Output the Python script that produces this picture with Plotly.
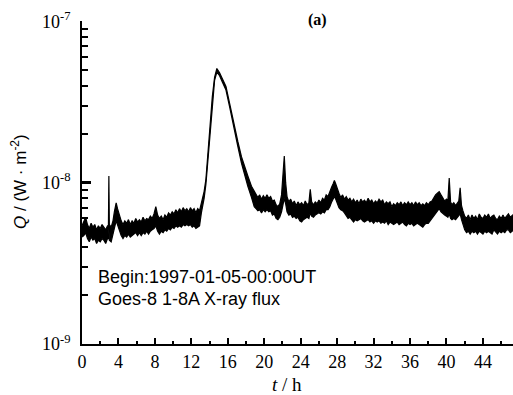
import plotly.graph_objects as go

# time in hours since 1997-01-05 00:00 UT (rows grouped the same way in all three lists)
t_hours = [
    0.0, 0.2, 0.4, 0.6, 0.8, 1.0, 1.2, 1.4, 1.6, 1.8, 2.0, 2.2, 2.4, 2.6, 2.8,
    2.9, 2.95, 3.0, 3.2, 3.4, 3.55, 3.75, 3.9, 4.1, 4.3,
    4.5, 4.7, 4.9, 5.1, 5.3, 5.5, 5.7, 5.9, 6.1, 6.3, 6.5, 6.7, 6.9, 7.1, 7.3, 7.5, 7.7, 7.9,
    8.1, 8.3, 8.5, 8.7, 8.9, 9.1, 9.3, 9.5, 9.7, 9.9, 10.1, 10.3, 10.5, 10.7, 10.9,
    11.1, 11.3, 11.5, 11.7, 11.9, 12.1, 12.3, 12.5, 12.7, 12.9,
    13.1, 13.4, 13.6, 13.8, 14.0, 14.3, 14.55, 14.8, 15.1, 15.4, 15.8, 16.2, 16.7, 17.1,
    17.5, 17.9, 18.2, 18.6, 18.9,
    19.1, 19.3, 19.5, 19.7, 19.9, 20.1, 20.3, 20.5, 20.7, 20.9, 21.1, 21.3, 21.5, 21.7, 21.9,
    22.05, 22.2, 22.35, 22.5, 22.7, 22.9, 23.1, 23.3, 23.5, 23.7, 23.9, 24.1, 24.3, 24.5, 24.7, 24.9,
    25.05, 25.2, 25.4, 25.6, 25.8, 26.0, 26.2, 26.4, 26.6, 26.8, 27.0, 27.2, 27.4, 27.55, 27.7,
    27.85, 28.0, 28.2, 28.4, 28.6, 28.8, 29.0, 29.2, 29.4, 29.6, 29.8,
    30.0, 30.2, 30.4, 30.6, 30.8, 31.0, 31.2, 31.4, 31.6, 31.8,
    32.0, 32.2, 32.4, 32.6, 32.8, 33.0, 33.2, 33.4, 33.6, 33.8,
    34.0, 34.2, 34.4, 34.6, 34.8, 35.0, 35.2, 35.4, 35.6, 35.8,
    36.0, 36.2, 36.4, 36.6, 36.8, 37.0, 37.2, 37.4, 37.6, 37.8,
    38.0, 38.2, 38.4, 38.6, 38.8, 39.0, 39.2, 39.4, 39.6, 39.8,
    40.0, 40.15, 40.3, 40.45, 40.6, 40.8, 41.0, 41.2, 41.35, 41.5, 41.65, 41.8,
    42.0, 42.2, 42.4, 42.6, 42.8, 43.0, 43.2, 43.4, 43.6, 43.8,
    44.0, 44.2, 44.4, 44.6, 44.8, 45.0, 45.2, 45.4, 45.6, 45.8,
    46.0, 46.2, 46.4, 46.6, 46.8, 47.0, 47.2, 47.4,
]

# upper edge of the noisy flux band, in units of 1e-9 W/m^2
flux_upper = [
    5.4, 5.7, 6.1, 5.5, 5.2, 5.6, 5.3, 5.5, 5.1, 5.4, 5.2, 5.5, 5.3, 5.1, 5.4,
    5.4, 11.0, 5.5, 5.3, 5.8, 6.6, 7.5, 6.9, 6.3, 5.8,
    5.5, 5.8, 5.6, 5.9, 5.5, 5.8, 5.6, 6.0, 5.7, 5.9, 5.7, 6.1, 5.8, 6.0, 5.9, 6.2, 6.0, 6.4,
    7.1, 6.3, 6.0, 6.2, 5.9, 6.3, 6.1, 6.5, 6.3, 6.6, 6.4, 6.8, 6.5, 6.9, 6.6,
    7.0, 6.7, 6.9, 6.6, 7.0, 6.7, 6.9, 6.5, 6.9, 6.7,
    7.5, 8.8, 10.5, 14.5, 21.5, 34.0, 45.0, 51.0, 48.0, 44.0, 39.5, 31.0, 22.5, 18.0,
    14.5, 12.2, 11.0, 9.5, 8.9,
    8.4, 8.1, 8.4, 7.9, 8.3, 8.0, 8.4, 8.0, 8.2, 7.7, 7.8, 7.3, 7.1, 7.4, 8.4,
    10.5, 14.6, 10.0, 8.2, 7.6, 7.9, 7.4, 7.7, 7.2, 7.6, 7.3, 7.5, 7.2, 7.7, 7.3, 7.5,
    9.1, 7.6, 7.3, 7.6, 7.4, 7.8, 7.5, 8.0, 7.8, 8.4, 8.2, 8.9, 9.4, 9.8, 10.3,
    9.8, 9.2, 8.6, 8.1, 8.4, 7.9, 8.2, 7.8, 8.0, 7.6, 7.9,
    7.5, 7.8, 7.4, 7.9, 7.6, 7.8, 7.5, 8.0, 7.6, 7.8,
    7.4, 7.7, 7.5, 7.9, 7.6, 7.8, 7.3, 7.6, 7.4, 7.6,
    7.1, 7.4, 7.2, 7.5, 7.3, 7.6, 7.2, 7.5, 7.3, 7.6,
    7.3, 7.5, 7.2, 7.6, 7.3, 7.5, 7.2, 7.4, 7.2, 7.5,
    7.3, 7.6, 7.7, 8.1, 8.4, 8.6, 8.8, 8.4, 8.0, 7.7,
    7.9, 7.7, 10.7, 7.6, 7.3, 7.5, 7.2, 7.5, 7.7, 9.3, 7.2, 6.7,
    6.2, 6.0, 6.3, 5.9, 6.3, 6.0, 6.2, 5.9, 6.4, 6.1,
    6.0, 6.3, 6.1, 6.4, 6.0, 6.2, 6.3, 6.0, 5.9, 6.2,
    6.0, 6.3, 6.0, 6.2, 6.4, 6.1, 6.3, 6.4,
]

# lower edge of the noisy flux band, in units of 1e-9 W/m^2
flux_lower = [
    4.6, 4.7, 4.9, 4.5, 4.3, 4.6, 4.4, 4.5, 4.2, 4.4, 4.3, 4.5, 4.4, 4.2, 4.5,
    4.5, 5.2, 4.4, 4.3, 4.7, 5.2, 5.8, 5.5, 5.0, 4.7,
    4.5, 4.7, 4.6, 4.8, 4.6, 4.7, 4.8, 4.9, 4.7, 4.9, 4.7, 4.9, 4.8, 5.0, 4.8, 5.0, 5.1, 5.2,
    5.4, 5.0, 4.8, 5.0, 4.9, 5.1, 5.0, 5.2, 5.1, 5.3, 5.2, 5.4, 5.3, 5.4, 5.3,
    5.5, 5.4, 5.5, 5.4, 5.5, 5.3, 5.4, 5.2, 5.3, 5.4,
    6.5, 8.0, 9.8, 13.5, 20.0, 32.0, 43.0, 48.5, 46.0, 42.0, 37.5, 29.5, 21.0, 16.8,
    13.2, 10.8, 9.5, 8.1, 7.1,
    6.9, 6.7, 6.8, 6.5, 6.8, 6.6, 6.8, 6.6, 6.7, 6.3, 6.4, 6.0, 5.9, 6.1, 6.6,
    7.4, 8.0, 7.4, 6.6, 6.3, 6.4, 6.1, 6.2, 6.0, 6.1, 5.8, 5.7, 5.9, 6.0, 6.1, 6.0,
    6.5, 6.2, 6.1, 6.3, 6.4, 6.5, 6.4, 6.6, 6.5, 6.8, 6.8, 7.1, 7.6, 7.9, 8.2,
    7.9, 7.4, 7.0, 6.8, 6.7, 6.5, 6.2, 6.0, 6.1, 5.9, 5.7,
    5.9, 5.8, 5.9, 6.0, 5.8, 5.7, 5.8, 5.9, 5.7, 5.8,
    5.6, 5.8, 5.7, 5.8, 5.6, 5.7, 5.6, 5.8, 5.5, 5.7,
    5.6, 5.5, 5.6, 5.7, 5.5, 5.6, 5.7, 5.5, 5.4, 5.6,
    5.5, 5.6, 5.4, 5.5, 5.6, 5.5, 5.4, 5.3, 5.5, 5.6,
    5.6, 5.8, 6.0, 6.3, 6.5, 6.7, 6.9, 6.6, 6.4, 6.3,
    6.2, 6.1, 6.4, 6.0, 5.9, 6.0, 5.9, 6.1, 6.2, 6.4, 5.9, 5.5,
    5.1, 4.9, 5.0, 4.8, 5.0, 4.9, 5.0, 4.8, 5.0, 4.9,
    4.8, 5.0, 4.9, 5.0, 4.9, 4.8, 5.1, 4.9, 4.8, 5.0,
    4.9, 5.0, 4.9, 5.1, 5.1, 4.9, 5.0, 5.2,
]

assert len(t_hours) == len(flux_upper) == len(flux_lower)

x_tickvals = list(range(0, 48, 4))
x_ticktext = [str(v) for v in x_tickvals]
y_major_vals = [1e-9, 1e-8, 1e-7]
y_major_text = ["10<sup>-9</sup>", "10<sup>-8</sup>", "10<sup>-7</sup>"]
y_minor_vals = [m * 10.0 ** e for e in (-9, -8) for m in range(2, 10)]

W, H = 513, 395
L, R, T, B = 82, 0, 21, 51


def px_x(p):
    return (p - L) / (W - L - R)


def px_y(p):
    return 1 - (p - T) / (H - T - B)


up = [v * 1e-9 for v in flux_upper]
lo = [v * 1e-9 for v in flux_lower]

fig = go.Figure()
fig.add_trace(go.Scatter(x=t_hours, y=lo, mode="lines",
                         line=dict(color="black", width=1.2), showlegend=False, hoverinfo="skip"))
fig.add_trace(go.Scatter(x=t_hours, y=up, mode="lines", fill="tonexty", fillcolor="black",
                         line=dict(color="black", width=1.2), showlegend=False))

serif = "Liberation Serif, Times New Roman, serif"
sans = "Liberation Sans, Arial, sans-serif"

fig.update_layout(
    width=W, height=H,
    margin=dict(l=L, r=R, t=T, b=B),
    paper_bgcolor="white", plot_bgcolor="white",
    font=dict(family=serif, size=18, color="black"),
    xaxis=dict(range=[0, 47.3], tickmode="array", tickvals=x_tickvals, ticktext=x_ticktext,
               ticks="inside", ticklen=6, tickwidth=1.8, tickcolor="black",
               minor=dict(ticks="inside", ticklen=3, tickwidth=1.6, dtick=2, tick0=0, tickcolor="black"),
               showline=True, linecolor="black", linewidth=1.8, showgrid=False, zeroline=False,
               tickfont=dict(family=serif, size=18)),
    yaxis=dict(type="log", range=[-9, -6.998], tickmode="array", tickvals=y_major_vals,
               ticktext=y_major_text,
               ticks="inside", ticklen=9, tickwidth=2.6, tickcolor="black",
               minor=dict(ticks="inside", ticklen=6, tickwidth=2.4, tickcolor="black",
                          tickmode="array", tickvals=y_minor_vals),
               showline=True, linecolor="black", linewidth=1.8, showgrid=False, zeroline=False,
               tickfont=dict(family=serif, size=18), ticklabelstandoff=6),
    annotations=[
        dict(text="<b>(a)</b>", x=px_x(317), y=px_y(20), xref="paper", yref="paper", showarrow=False,
             font=dict(family=serif, size=16), xanchor="center", yanchor="middle"),
        dict(text="Begin:1997-01-05-00:00UT", x=px_x(96), y=px_y(277), xref="paper", yref="paper",
             showarrow=False, font=dict(family=sans, size=18), xanchor="left", yanchor="middle"),
        dict(text="Goes-8 1-8A X-ray flux", x=px_x(96), y=px_y(299), xref="paper", yref="paper",
             showarrow=False, font=dict(family=sans, size=18), xanchor="left", yanchor="middle"),
        dict(text="<i>t</i> / h", x=px_x(287), y=px_y(384), xref="paper", yref="paper",
             showarrow=False, font=dict(family=serif, size=19), xanchor="center", yanchor="middle"),
        dict(text="<i>Q</i> / (W · m<sup>-2</sup>)", x=px_x(19), y=px_y(182), xref="paper", yref="paper",
             showarrow=False, textangle=-90, font=dict(family=sans, size=17),
             xanchor="center", yanchor="middle"),
    ],
)

fig.write_html("out.html")
